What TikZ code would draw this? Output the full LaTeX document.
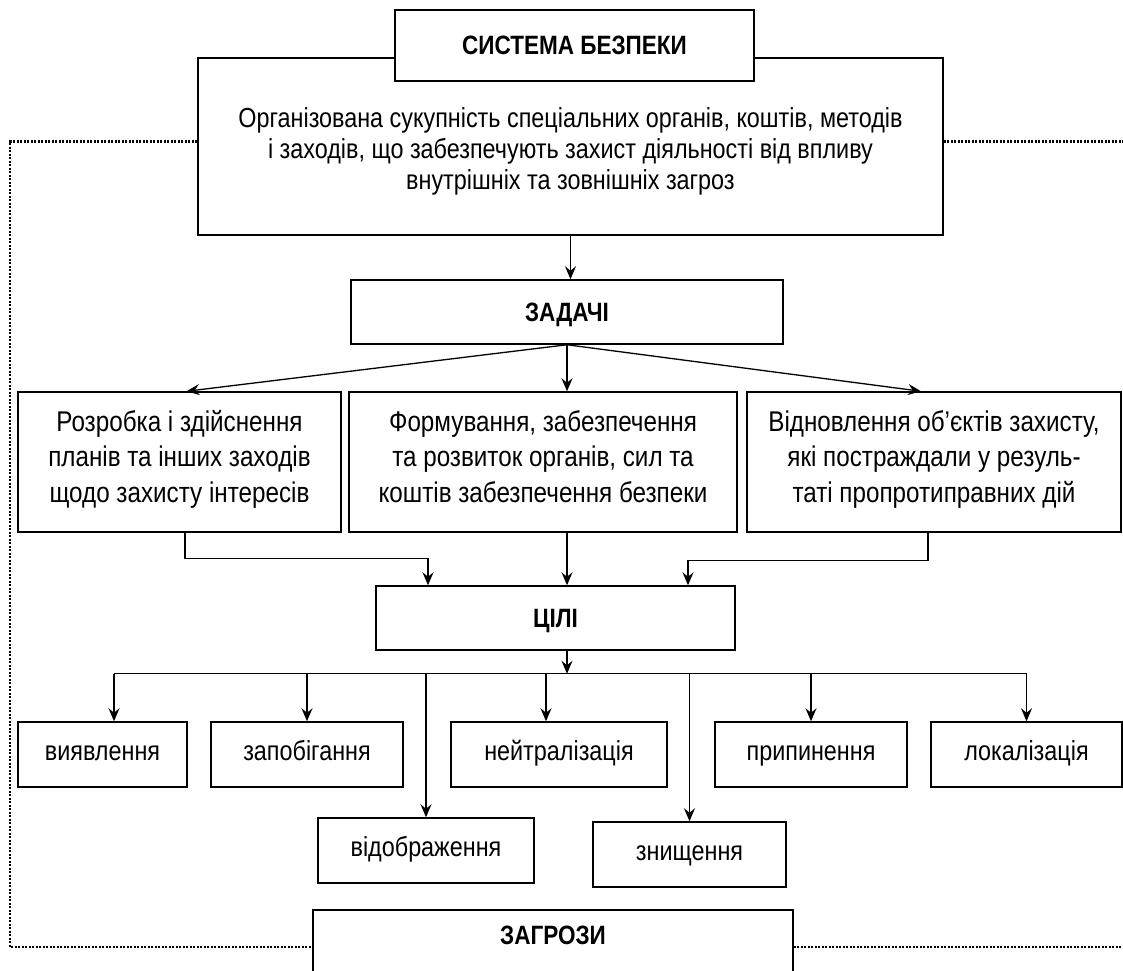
\documentclass[tikz,border=0pt]{standalone}
\usepackage{fontspec}
\setmainfont{Liberation Sans}[FakeStretch=0.85]
\usetikzlibrary{arrows.meta,calc}
\newcommand{\mylines}[2]{\raisebox{#1}[\height][\depth]{\begin{tabular}{@{}c@{}}#2\end{tabular}}}
\begin{document}
\begin{tikzpicture}[x=1pt,y=-1pt,
  box/.style={draw, line width=1.5pt, fill=white, inner sep=0pt, font=\fontsize{27.5}{35.5}\selectfont},
  task/.style={box, minimum height=140pt, font=\fontsize{28.5}{35.5}\selectfont},
  title/.style={box, font=\bfseries\fontsize{26.5}{30}\selectfont, text height=18.5pt, text depth=0pt},
  small/.style={box, minimum height=65pt, text height=18pt, text depth=6pt},
  conn/.style={line width=1.3pt},
  arr/.style={conn, -{Stealth[length=13pt,width=11pt,inset=4.5pt]}},
  dotline/.style={line width=2.8pt, dash pattern=on 1.9pt off 1.6pt}]
\useasboundingbox (0,0) rectangle (1123,970);
\fill[white] (0,0) rectangle (1123,970);
\clip (0,0) rectangle (1123,970);

\node[box, minimum width=745pt, minimum height=177pt, font=\fontsize{27.5}{31}\selectfont] (def) at (570.5,146.5)
  {\mylines{-5.3pt}{Організована сукупність спеціальних органів, коштів, методів\\і заходів, що забезпечують захист діяльності від впливу\\внутрішніх та зовнішніх загроз}};
\node[title, minimum width=359pt, minimum height=71pt] (sys) at (574.5,45.5) {СИСТЕМА БЕЗПЕКИ};
\node[title, minimum width=432pt, minimum height=64pt] (zad) at (567,312) {ЗАДАЧІ};

\node[task, minimum width=323pt] (t1) at (179.5,462)
  {\mylines{2.6pt}{Розробка і здійснення\\планів та інших заходів\\щодо захисту інтересів}};
\node[task, minimum width=388pt] (t2) at (543,462)
  {\mylines{2.6pt}{Формування, забезпечення\\та розвиток органів, сил та\\коштів забезпечення безпеки}};
\node[task, minimum width=374pt] (t3) at (934,462)
  {\mylines{2.6pt}{Відновлення об’єктів захисту,\\які постраждали у резуль-\\таті пропротиправних дій}};

\node[title, minimum width=359pt, minimum height=64pt] (cil) at (555.5,618) {ЦІЛІ};

\node[small, minimum width=169pt] (vyav) at (102.5,754.5) {виявлення};
\node[small, minimum width=192pt] (zapob) at (307,754.5) {запобігання};
\node[small, minimum width=216pt] (neitr) at (559,754.5) {нейтралізація};
\node[small, minimum width=192pt] (prypyn) at (811,754.5) {припинення};
\node[small, minimum width=191pt] (lokal) at (1026.5,754.5) {локалізація};
\node[small, minimum width=216pt] (vidobr) at (426,850.5) {відображення};
\node[small, minimum width=193pt] (znysh) at (689.5,854.5) {знищення};

\node[title, minimum width=480pt, text height=35pt, text depth=70pt, inner ysep=0pt, anchor=north] (zagr) at (553,909) {ЗАГРОЗИ};

% connectors
\draw[arr] (def.south) -- (def.south |- zad.north);
\draw[arr] (zad.south) -- ($(t1.north)+(7,0)$);
\draw[arr] (zad.south) -- (zad.south |- t2.north);
\draw[arr] (zad.south) -- ($(t3.north)+(-13,0)$);
\draw[arr] ($(t1.south)+(5.5,0)$) -- ++(0,26) -| ($(cil.north)+(-127.5,0)$);
\draw[arr] (t2.south -| zad.south) -- (cil.north -| zad.south);
\draw[arr] ($(t3.south)+(-6,0)$) -- ++(0,28) -| ($(cil.north)+(132.5,0)$);

\coordinate (bus) at ($(cil.south -| zad.south)+(0,23)$);
\draw[arr] (cil.south -| zad.south) -- (bus);
\coordinate (b1) at ($(vyav.north)+(11.5,0)$);
\coordinate (b3) at ($(neitr.north)+(-13,0)$);
\draw[conn] (b1 |- bus) -- (lokal.north |- bus);
\draw[arr] (b1 |- bus) -- (b1);
\draw[arr] (zapob.north |- bus) -- (zapob.north);
\draw[arr] (b3 |- bus) -- (b3);
\draw[arr] (prypyn.north |- bus) -- (prypyn.north);
\draw[arr] (lokal.north |- bus) -- (lokal.north);
\draw[arr] (vidobr.north |- bus) -- (vidobr.north);
\draw[arr] (znysh.north |- bus) -- (znysh.north);

% dotted frame
\coordinate (fl) at (10,947);
\coordinate (fr1) at (1123,141.5);
\coordinate (fr2) at (1123,947);
\draw[dotline] ($(def.west)+(0,-5)$) -| (fl) -- ($(zagr.north west)+(0,38)$);
\draw[dotline] ($(def.east)+(0,-5)$) -- (fr1);
\draw[dotline] ($(zagr.north east)+(0,38)$) -- (fr2);
\end{tikzpicture}
\end{document}
